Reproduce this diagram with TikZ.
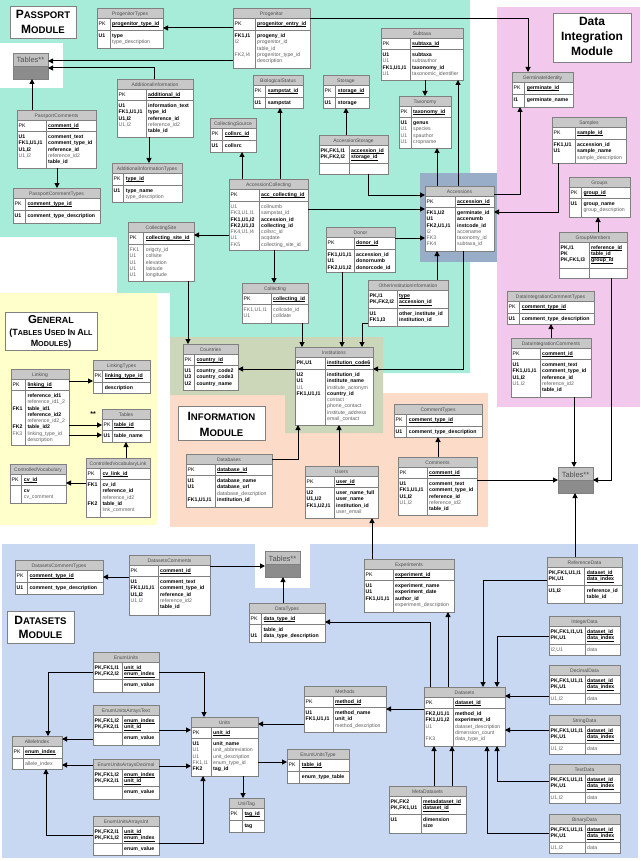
\documentclass[tikz,border=0pt]{standalone}
\usepackage{fontspec}
\setmainfont{Liberation Sans}
\usetikzlibrary{calc,arrows.meta}
\definecolor{cteal}{RGB}{166,236,216}
\definecolor{cpink}{RGB}{242,200,236}
\definecolor{cyellow}{RGB}{255,255,204}
\definecolor{csalmon}{RGB}{252,220,200}
\definecolor{colive}{RGB}{204,214,184}
\definecolor{cblue}{RGB}{200,215,242}
\definecolor{cslate}{RGB}{152,174,200}
\definecolor{titlefill}{RGB}{200,200,200}
\definecolor{bordergray}{RGB}{128,128,128}
\definecolor{titletext}{RGB}{80,80,80}
\definecolor{fieldgray}{RGB}{96,96,96}
\definecolor{bodygray}{RGB}{140,140,140}
\definecolor{starfill}{RGB}{192,192,192}
\newcommand\Fb[1]{\textbf{#1}}
\newcommand\Fg[1]{{\color{fieldgray}#1}}
\newcommand\Fk[1]{{\setbox0\hbox{\textbf{#1}}\rlap{\rule[-1.35pt]{\wd0}{0.35pt}}\box0}}
\newcommand\SC[4]{{\fontsize{#3}{#3}\selectfont #1}{\fontsize{#4}{#4}\selectfont #2}}
\tikzset{
  tblnode/.style={fill=white, draw=none, inner sep=0pt, outer sep=0pt},
  tl/.style={draw=bordergray, line width=0.6pt},
  ttext/.style={font=\fontsize{5}{6}\selectfont, text=titletext, inner sep=0pt, anchor=base},
  ctext/.style={font=\fontsize{5.2}{6.3}\selectfont, anchor=north west, inner sep=0pt},
  arr/.style={draw=black, line width=1pt, -{Triangle[length=5pt,width=5pt]}},
  modbox/.style={fill=white, draw=bordergray, line width=0.6pt, inner sep=0pt, anchor=north west},
  modtext/.style={font=\bfseries, inner sep=0pt, anchor=base},
}
% \tbl{name}{x}{y}{w}{keycol}{pkheight}{height}{title}
\newcommand\tbl[8]{%
  \node[tblnode, minimum width=#4pt, minimum height=#7pt, anchor=north west] (#1) at (#2,#3) {};
  \fill[titlefill] (#2,#3) rectangle ({#2+#4},{#3+10.5});
  \draw[tl] (#2,{#3+10.5}) -- ({#2+#4},{#3+10.5});
  \draw[tl] (#2,{#3+10.5+#6}) -- ({#2+#4},{#3+10.5+#6});
  \draw[tl] ({#2+#5},{#3+10.5}) -- ({#2+#5},{#3+#7});
  \draw[tl] (#2,#3) rectangle ({#2+#4},{#3+#7});
  \node[ttext] (#1-title) at ({#2+#4/2},{#3+7.4}) {#8};
  \gdef\tn{#1}\gdef\tx{#2}\gdef\ty{#3}\gdef\tk{#5}\gdef\tp{#6}}
% \trows{pk keys}{pk fields}{keys}{fields}
\newcommand\trows[4]{%
  \node[ctext] (\tn-a) at ({\tx+1.5},{\ty+12.6}) {\begin{tabular}{@{}l@{}}#1\end{tabular}};
  \node[ctext] (\tn-b) at ({\tx+\tk+2},{\ty+12.6}) {\begin{tabular}{@{}l@{}}#2\end{tabular}};
  \node[ctext] (\tn-c) at ({\tx+1.5},{\ty+12.8+\tp}) {\begin{tabular}{@{}l@{}}#3\end{tabular}};
  \node[ctext] (\tn-d) at ({\tx+\tk+2},{\ty+12.8+\tp}) {\begin{tabular}{@{}l@{}}#4\end{tabular}};}
\newcommand\commentrows{\trows{PK}{\Fk{comment\_id}}{\Fb{U1}\\\Fb{FK1,U1,I1}\\\Fb{U1,I2}\\\Fg{U1,I2}}{\Fb{comment\_text}\\\Fb{comment\_type\_id}\\\Fb{reference\_id}\\\Fg{reference\_id2}\\\Fb{table\_id}}}
\newcommand\ctrows{\trows{PK}{\Fk{comment\_type\_id}}{\Fb{U1}}{\Fb{comment\_type\_description}}}
\newcommand\datarows{\trows{\Fb{PK,FK1,U1,I1}\\\Fb{PK,U1}}{\Fk{dataset\_id}\\\Fk{data\_index}}{\Fg{U1,I2}}{\Fg{data}}}
% Tables** box
\newcommand\tstar[3]{%
  \node[tblnode, fill=bodygray, minimum width=35pt, minimum height=26pt, anchor=north west] (#1) at (#2,#3) {};
  \fill[starfill] (#2,#3) rectangle ({#2+35},{#3+13});
  \draw[tl] (#2,{#3+13}) -- ({#2+35},{#3+13});
  \draw[tl] (#2,#3) rectangle ({#2+35},{#3+26});
  \node[font=\fontsize{7.5}{8}\selectfont, text=titletext, inner sep=0pt, anchor=base] (#1-title) at ({#2+17.5},{#3+10}) {Tables**};}
\begin{document}
\begin{tikzpicture}[x=1pt,y=-1pt]
\useasboundingbox (0,0) rectangle (640,861);
\fill[white] (0,0) rectangle (640,861);
% ---------- module backgrounds
\fill[cteal] (0,0) -- (470,0) -- (470,373) -- (383,373) -- (383,337) -- (170,337) -- (170,293) -- (117,293) -- (117,237) -- (0,237) -- cycle;
\fill[white] (0,43) rectangle (63,88);
\fill[cslate] (420,173) rectangle (498,262);
\fill[cpink] (497,7) rectangle (640,407);
\fill[cyellow] (0,293) rectangle (157,525);
\fill[csalmon] (170,393) rectangle (488,527);
\fill[colive] (170,337) -- (383,337) -- (383,433) -- (285,433) -- (285,395) -- (170,395) -- cycle;
\fill[cblue] (2,544) rectangle (638,858);
\fill[white] (255,544) rectangle (310,588);
% ---------- module labels
\node[modbox, minimum width=66pt, minimum height=32pt] (passlabel) at (10,6) {};
\node[modtext] (pass1) at (43,18.3) {\SC{P}{ASSPORT}{12}{9.6}};
\node[modtext] (pass2) at (43,33.3) {\SC{M}{ODULE}{12}{9.6}};
\node[modbox, minimum width=78pt, minimum height=49pt] (dilabel) at (553,13) {};
\node[modtext, font=\bfseries\fontsize{12}{12}\selectfont] (di1) at (592,26) {Data};
\node[modtext, font=\bfseries\fontsize{12}{12}\selectfont] (di2) at (592,40.5) {Integration};
\node[modtext, font=\bfseries\fontsize{12}{12}\selectfont] (di3) at (592,56) {Module};
\node[modbox, minimum width=92pt, minimum height=38pt] (genlabel) at (5,312) {};
\node[modtext] (gen1) at (51,323.3) {\SC{G}{ENERAL}{11.5}{9}};
\node[modtext] (gen2) at (51,335.3) {\SC{(T}{ABLES }{9}{7.2}\SC{U}{SED }{9}{7.2}\SC{I}{N }{9}{7.2}\SC{A}{LL}{9}{7.2}};
\node[modtext] (gen3) at (51,346.3) {\SC{M}{ODULES}{9}{7.2}\SC{)}{}{9}{7.2}};
\node[modbox, minimum width=87pt, minimum height=34pt] (infolabel) at (178,406) {};
\node[modtext] (info1) at (221.5,420.5) {\SC{I}{NFORMATION}{12}{9.6}};
\node[modtext] (info2) at (221.5,436) {\SC{M}{ODULE}{12}{9.6}};
\node[modbox, minimum width=67pt, minimum height=32pt] (dslabel) at (7,611) {};
\node[modtext] (ds1) at (40.5,624) {\SC{D}{ATASETS}{12}{9.6}};
\node[modtext] (ds2) at (40.5,638.5) {\SC{M}{ODULE}{12}{9.6}};
\node[modtext, font=\bfseries\fontsize{7}{7}\selectfont] (stars) at (93,416) {**};
% ---------- passport module tables
\tbl{PT}{97}{8}{66}{13}{12}{40}{ProgenitorTypes}
\trows{PK}{\Fk{progenitor\_type\_id}}{\Fb{U1}}{\Fb{type}\\\Fg{type\_description}}
\tbl{Prog}{233}{8}{77}{22}{12}{60}{Progenitor}
\trows{PK}{\Fk{progenitor\_entry\_id}}{\Fb{FK1,I1}\\\Fg{I2}\\ \\\Fg{FK2,I4}}{\Fb{progeny\_id}\\\Fg{progenitor\_id}\\\Fg{table\_id}\\\Fg{progenitor\_type\_id}\\\Fg{description}}
\tstar{TA}{13}{53}
\tbl{PC}{17}{110}{79}{29}{11}{58}{PassportComments}
\commentrows
\tbl{PCT}{13}{188}{87}{12.3}{12}{35}{PassportCommentTypes}
\ctrows
\tbl{AI}{117}{79}{76}{29}{11}{58}{AdditionalInformation}
\trows{PK}{\Fk{additional\_id}}{\Fb{U1}\\\Fb{FK1,U1,I1}\\\Fb{U1,I2}\\\Fg{U1,I2}}{\Fb{information\_text}\\\Fb{type\_id}\\\Fb{reference\_id}\\\Fg{reference\_id2}\\\Fb{table\_id}}
\tbl{AIT}{112}{163}{70}{11.7}{12}{39}{AdditionalInformationTypes}
\trows{PK}{\Fk{type\_id}}{\Fb{U1}}{\Fb{type\_name}\\\Fg{type\_description}}
\tbl{CS}{210}{118}{46}{12.7}{12}{34}{CollectingSource}
\trows{PK}{\Fk{collsrc\_id}}{\Fb{U1}}{\Fb{collsrc}}
\tbl{BS}{253}{75}{50}{12.7}{12}{33}{BiologicalStatus}
\trows{PK}{\Fk{sampstat\_id}}{\Fb{U1}}{\Fb{sampstat}}
\tbl{Sto}{323}{75}{46}{12.7}{12}{33}{Storage}
\trows{PK}{\Fk{storage\_id}}{\Fb{U1}}{\Fb{storage}}
\tbl{AS}{319}{135}{69}{30}{18}{39}{AccessionStorage}
\trows{\Fb{PK,FK1,I1}\\\Fb{PK,FK2,I2}}{\Fk{accession\_id}\\\Fk{storage\_id}}{}{}
\tbl{AC}{229}{179}{79}{30}{12}{71}{AccessionCollecting}
\trows{PK}{\Fk{acc\_collecting\_id}}{\Fg{U1}\\\Fg{FK3,U1,I1}\\\Fb{FK1,U1,I2}\\\Fb{FK2,U1,I3}\\\Fg{FK4,U1,I4}\\\Fg{U1}\\\Fg{FK5}}{\Fg{collnumb}\\\Fg{sampstat\_id}\\\Fb{accession\_id}\\\Fb{collecting\_id}\\\Fg{collsrc\_id}\\\Fg{acqdate}\\\Fg{collecting\_site\_id}}
\tbl{Sub}{381}{28}{82}{29}{11}{52}{Subtaxa}
\trows{PK}{\Fk{subtaxa\_id}}{\Fb{U1}\\\Fg{U1}\\\Fb{FK1,U1,I1}\\\Fg{U1}}{\Fb{subtaxa}\\\Fg{subtauthor}\\\Fb{taxonomy\_id}\\\Fg{taxonomic\_identifier}}
\tbl{Tax}{399}{96}{52}{12}{11}{52}{Taxonomy}
\trows{PK}{\Fk{taxonomy\_id}}{\Fb{U1}\\\Fg{U1}\\\Fg{U1}\\\Fg{U1}}{\Fb{genus}\\\Fg{species}\\\Fg{spauthor}\\\Fg{cropname}}
\tbl{Acc}{425}{186}{69}{30}{11}{65}{Accessions}
\trows{PK}{\Fk{accession\_id}}{\Fb{FK1,U2}\\\Fb{U1}\\\Fb{FK2,U1,I1}\\\Fg{I2}\\\Fg{FK3}\\\Fg{FK4}}{\Fb{germinate\_id}\\\Fb{accenumb}\\\Fb{instcode\_id}\\\Fg{accename}\\\Fg{taxonomy\_id}\\\Fg{subtaxa\_id}}
\tbl{CSite}{128}{222}{66}{15.7}{12}{59}{CollectingSite}
\trows{PK}{\Fk{collecting\_site\_id}}{\Fg{FK1}\\\Fg{U1}\\\Fg{U1}\\\Fg{U1}\\\Fg{U1}}{\Fg{origcty\_id}\\\Fg{collsite}\\\Fg{elevation}\\\Fg{latitude}\\\Fg{longitude}}
\tbl{Don}{326}{227}{69}{28}{12}{45}{Donor}
\trows{PK}{\Fk{donor\_id}}{\Fb{FK1,U1,I1}\\\Fb{U1}\\\Fb{FK2,U1,I2}}{\Fb{accession\_id}\\\Fb{donornumb}\\\Fb{donorcode\_id}}
\tbl{Col}{242}{283}{66}{29}{11}{40}{Collecting}
\trows{PK}{\Fk{collecting\_id}}{\Fg{FK1,U1,I1}\\\Fg{U1}}{\Fg{collcode\_id}\\\Fg{colldate}}
\tbl{OII}{368}{280}{80}{29}{18}{46}{OtherInstitutionInformation}
\trows{\Fb{PK,I1}\\\Fb{PK,FK2,I2}}{\Fk{type}\\\Fk{accession\_id}}{\Fb{U1}\\\Fb{FK1,I3}}{\Fb{other\_institute\_id}\\\Fb{institution\_id}}
% ---------- data integration
\tbl{GI}{512}{72}{61}{12.7}{12}{35}{GerminateIdentity}
\trows{PK}{\Fk{germinate\_id}}{\Fb{I1}}{\Fb{germinate\_name}}
\tbl{Sam}{552}{117}{74}{23}{12}{46}{Samples}
\trows{PK}{\Fk{sample\_id}}{\Fb{FK1,U1}\\\Fb{U1}}{\Fb{accession\_id}\\\Fb{sample\_name}\\\Fg{sample\_description}}
\tbl{Grp}{569}{177}{61}{12.3}{11}{40}{Groups}
\trows{PK}{\Fk{group\_id}}{\Fb{U1}}{\Fb{group\_name}\\\Fg{group\_description}}
\tbl{GM}{559}{232}{68}{30}{26}{46}{GroupMembers}
\trows{\Fb{PK,I1}\\\Fb{PK}\\\Fb{PK,FK1,I3}}{\Fk{reference\_id}\\\Fk{table\_id}\\\Fk{group\_id}}{}{}
\tbl{DICT}{507}{291}{87}{12.7}{12}{33}{DataIntegrationCommentTypes}
\ctrows
\tbl{DIC}{511}{338}{80}{29}{11}{59}{DataIntegrationComments}
\commentrows
\tstar{TC}{558}{467}
% ---------- information module
\tbl{Cty}{183}{344}{55}{11.3}{11}{46}{Countries}
\trows{PK}{\Fk{country\_id}}{\Fb{U1}\\\Fb{U3}\\\Fb{U2}}{\Fb{country\_code2}\\\Fb{country\_code3}\\\Fb{country\_name}}
\tbl{Inst}{295}{347}{78}{30}{12}{78}{Institutions}
\trows{\Fb{PK,U1}}{\Fk{institution\_code6}}{\Fb{U2}\\\Fb{U1}\\\Fg{U1}\\\Fb{FK1,U1,I1}}{\Fb{institution\_id}\\\Fb{institute\_name}\\\Fg{institute\_acronym}\\\Fb{country\_id}\\\Fg{contact}\\\Fg{phone\_contact}\\\Fg{institute\_address}\\\Fg{email\_contact}}
\tbl{DB}{186}{454}{86}{29}{11}{53}{Databases}
\trows{PK}{\Fk{database\_id}}{\Fb{U1}\\\Fb{U1}\\ \\\Fb{FK1,U1,I1}}{\Fb{database\_name}\\\Fb{database\_url}\\\Fg{database\_description}\\\Fb{institution\_id}}
\tbl{Usr}{305}{466}{73}{29}{11}{52}{Users}
\trows{PK}{\Fk{user\_id}}{\Fb{U2}\\\Fb{U1,U2}\\\Fb{FK1,U2,I1}}{\Fb{user\_name\_full}\\\Fb{user\_name}\\\Fb{institution\_id}\\\Fg{user\_email}}
\tbl{CT}{394}{404}{88}{12.7}{12}{33}{CommentTypes}
\ctrows
\tbl{Com}{398}{457}{79}{29}{11}{58}{Comments}
\commentrows
% ---------- general
\tbl{Lnk}{11}{369}{58}{14.3}{11}{76}{Linking}
\trows{PK}{\Fk{linking\_id}}{ \\ \\\Fb{FK1}\\ \\ \\\Fb{FK2}\\\Fg{FK3}}{\Fb{reference\_id1}\\\Fg{reference\_id1\_2}\\\Fb{table\_id1}\\\Fb{reference\_id2}\\\Fg{reference\_id2\_2}\\\Fb{table\_id2}\\\Fg{linking\_type\_id}\\\Fg{description}}
\tbl{LT}{93}{360}{57}{9.7}{12}{33}{LinkingTypes}
\trows{PK}{\Fk{linking\_type\_id}}{}{\Fb{description}}
\tbl{Tbl}{102}{409}{48}{10}{11}{33}{Tables}
\trows{PK}{\Fk{table\_id}}{\Fb{U1}}{\Fb{table\_name}}
\tbl{CV}{10}{464}{56}{11.7}{11}{39}{ControlledVocabulary}
\trows{PK}{\Fk{cv\_id}}{}{\Fb{cv}\\\Fg{cv\_comment}}
\tbl{CVL}{86}{458}{64}{14.3}{11}{59}{ControlledVocabularyLink}
\trows{PK}{\Fk{cv\_link\_id}}{\Fb{FK1}\\ \\ \\\Fb{FK2}}{\Fb{cv\_id}\\\Fb{reference\_id}\\\Fg{reference\_id2}\\\Fb{table\_id}\\\Fg{link\_comment}}
% ---------- datasets module
\tbl{DCT}{15}{560}{88}{12.3}{12}{34}{DatasetsCommentTypes}
\ctrows
\tbl{DC}{129}{555}{81}{29}{11}{60}{DatasetsComments}
\commentrows
\tstar{TB}{265}{551}
\tbl{DT}{249}{603}{76}{12.3}{11}{39}{DataTypes}
\trows{PK}{\Fk{data\_type\_id}}{ \\\Fb{U1}}{\Fb{table\_id}\\\Fb{data\_type\_description}}
\tbl{Exp}{364}{559}{90}{29}{11}{53}{Experiments}
\trows{PK}{\Fk{experiment\_id}}{\Fb{U1}\\\Fb{U1}\\\Fb{FK1,U1,I1}}{\Fb{experiment\_name}\\\Fb{experiment\_date}\\\Fb{author\_id}\\\Fg{experiment\_description}}
\tbl{RD}{547}{557}{75}{37.7}{18}{46}{ReferenceData}
\trows{\Fb{PK,FK1,U1,I1}\\\Fb{PK,U1}}{\Fk{dataset\_id}\\\Fk{data\_index}}{\Fb{U1,I2}}{\Fb{reference\_id}\\\Fb{table\_id}}
\tbl{IntD}{549}{616}{71}{36}{18}{39}{IntegerData}
\trows{\Fb{PK,FK1,I1,U1}\\\Fb{PK,U1}}{\Fk{dataset\_id}\\\Fk{data\_index}}{\Fg{I2,U1}}{\Fg{data}}
\tbl{DecD}{549}{665}{71}{36}{18}{39}{DecimalData}
\datarows
\tbl{StrD}{549}{715}{71}{36}{18}{39}{StringData}
\datarows
\tbl{TxtD}{549}{764}{71}{36}{18}{39}{TextData}
\datarows
\tbl{BinD}{549}{814}{71}{36}{18}{39}{BinaryData}
\datarows
\tbl{DS}{424}{687}{81}{29}{11}{59}{Datasets}
\trows{PK}{\Fk{dataset\_id}}{\Fb{FK2,U1,I1}\\\Fb{FK1,U1,I2}\\\Fg{U1}\\ \\\Fg{FK3}}{\Fb{method\_id}\\\Fb{experiment\_id}\\\Fg{dataset\_description}\\\Fg{dimension\_count}\\\Fg{data\_type\_id}}
\tbl{MD}{389}{786}{77}{32}{18}{47}{MetaDatasets}
\trows{\Fb{PK,FK2}\\\Fb{PK,FK1,U1}}{\Fk{metadataset\_id}\\\Fk{dataset\_id}}{\Fb{U1}}{\Fb{dimension}\\\Fb{size}}
\tbl{Meth}{304}{686}{82}{29}{11}{46}{Methods}
\trows{PK}{\Fk{method\_id}}{\Fb{U1}\\\Fb{FK1,U1,I1}}{\Fb{method\_name}\\\Fb{unit\_id}\\\Fg{method\_description}}
\tbl{Un}{191}{717}{67}{20}{11}{59}{Units}
\trows{PK}{\Fk{unit\_id}}{\Fb{U1}\\\Fg{U1}\\\Fg{U1}\\\Fg{FK1,I1}\\\Fb{FK2}}{\Fb{unit\_name}\\\Fg{unit\_abbreviation}\\\Fg{unit\_description}\\\Fg{enum\_type\_id}\\\Fb{tag\_id}}
\tbl{EUT}{287}{749}{62}{12.7}{12}{34}{EnumUnitsType}
\trows{PK}{\Fk{table\_id}}{}{\Fb{enum\_type\_table}}
\tbl{UT}{229}{798}{35}{13.3}{12}{34}{UnitTag}
\trows{PK}{\Fk{tag\_id}}{}{\Fb{tag}}
\tbl{EU}{93}{652}{66}{29}{17}{40}{EnumUnits}
\trows{\Fb{PK,FK1,I1}\\\Fb{PK,FK2,I2}}{\Fk{unit\_id}\\\Fk{enum\_index}}{}{\Fb{enum\_value}}
\tbl{EUAT}{93}{705}{66}{29}{17}{40}{EnumUnitsArraysText}
\trows{\Fb{PK,FK1,I2}\\\Fb{PK,FK2,I1}}{\Fk{enum\_index}\\\Fk{unit\_id}}{}{\Fb{enum\_value}}
\tbl{EUAD}{93}{759}{66}{29}{17}{40}{EnumUnitsArraysDecimal}
\trows{\Fb{PK,FK1,I2}\\\Fb{PK,FK2,I1}}{\Fk{enum\_index}\\\Fk{unit\_id}}{}{\Fb{enum\_value}}
\tbl{EUAI}{93}{816}{66}{29}{17}{39}{EnumUnitsArraysInt}
\trows{\Fb{PK,FK2,I1}\\\Fb{PK,FK1,I2}}{\Fk{unit\_id}\\\Fk{enum\_index}}{}{\Fb{enum\_value}}
\tbl{AlI}{12}{736}{50}{11}{12}{33}{AlleleIndex}
\trows{PK}{\Fk{enum\_index}}{}{\Fg{allele\_index}}
% ---------- connectors
\draw[arr] (Prog.west |- 0,28) -- (PT.east |- 0,28);
\draw[arr] (Prog.west |- 0,61) -- (TA.east |- 0,61);
\draw[arr] (AI.north -| 154,0) |- (TA.east |- 0,68);
\draw[arr] (PC.north -| 32,0) -- (TA.south -| 32,0);
\draw[arr] (PC.south -| 57,0) -- (PCT.north -| 57,0);
\draw[arr] (AI.south -| 149,0) -- (AIT.north -| 149,0);
\draw[arr] (AC.north -| 242,0) -- (CS.south -| 242,0);
\draw[arr] (AC.north -| 280,0) -- (BS.south -| 280,0);
\draw[arr] (AS.north -| 346,0) -- (Sto.south -| 346,0);
\draw[arr] (AS.south -| 368,0) |- (Acc.west |- 0,195);
\draw[arr] (AC.east |- 0,209) -- (Acc.west |- 0,209);
\draw[arr] (AC.west |- 0,235) -- (CSite.east |- 0,235);
\draw[arr] (AC.south -| 274,0) -- (Col.north -| 274,0);
\draw[arr] (Don.east |- 0,238) -- (Acc.west |- 0,238);
\draw[arr] (Don.south -| 342,0) -- (Inst.north -| 342,0);
\draw[arr] (Col.south -| 302,0) -- (Inst.north -| 302,0);
\draw[arr] (OII.west |- 0,323) -| (Inst.north -| 362,0);
\draw[arr] (OII.north -| 437,0) -- (Acc.south -| 437,0);
\draw[arr] (Acc.south -| 463,0) |- (Inst.east |- 0,369);
\draw[arr] (Inst.west |- 0,369) -- (Cty.east |- 0,369);
\draw[arr] (CSite.south -| 188,0) -- (Cty.north -| 188,0);
\draw[arr] (Acc.north -| 437,0) -- (Tax.south -| 437,0);
\draw[arr] (Acc.north -| 458,0) -- (Sub.south -| 458,0);
\draw[arr] (Sub.south -| 425,0) -- (Tax.north -| 425,0);
\draw[arr] (Acc.east |- 0,194) -| (GI.south -| 520,0);
\draw[arr] (Sam.south -| 558,0) |- (Acc.east |- 0,212);
\draw[arr] (Prog.east |- 0,19) -| (GI.north -| 528,0);
\draw[arr] (GM.north -| 598,0) -- (Grp.south -| 598,0);
\draw[arr] (GM.south -| 611,0) |- (TC.east |- 0,480);
\draw[arr] (DIC.north -| 551,0) -- (DICT.south -| 551,0);
\draw[arr] (DIC.south -| 574,0) -- (TC.north -| 574,0);
\draw[arr] (Com.east |- 0,480) -- (TC.west |- 0,480);
\draw[arr] (Com.north -| 438,0) -- (CT.south -| 438,0);
\draw[arr] (RD.north -| 575,0) -- (TC.south -| 575,0);
\draw[arr] (Usr.north -| 339,0) -- (Inst.south -| 339,0);
\draw[arr] (DB.east |- 0,459) -| (Inst.south -| 298,0);
\draw[arr] (Exp.north -| 372,0) -- (Usr.south -| 372,0);
\draw[arr] (Lnk.east |- 0,381) -- (LT.west |- 0,381);
\draw[arr] (Lnk.east |- 0,425) -- (Tbl.west |- 0,425);
\draw[arr] (Lnk.east |- 0,435) -- (Tbl.west |- 0,435);
\draw[arr] (CVL.north -| 126,0) -- (Tbl.south -| 126,0);
\draw[arr] (CVL.west |- 0,483) -- (CV.east |- 0,483);
\draw[arr] (DC.east |- 0,566) -- (TB.west |- 0,566);
\draw[arr] (DC.west |- 0,577) -- (DCT.east |- 0,577);
\draw[arr] (DT.north -| 283,0) -- (TB.south -| 283,0);
\draw[arr] (DS.north -| 430,0) |- (DT.east |- 0,622);
\draw[arr] (DS.north -| 448,0) -- (Exp.south -| 448,0);
\draw[arr] (RD.west |- 0,580) -| (DS.north -| 483,0);
\draw[arr] (IntD.west |- 0,636) -| (DS.north -| 497,0);
\draw[arr] (DecD.west |- 0,696) -- (DS.east |- 0,696);
\draw[arr] (StrD.west |- 0,730) -- (DS.east |- 0,730);
\draw[arr] (TxtD.west |- 0,781) -| (DS.south -| 497,0);
\draw[arr] (BinD.west |- 0,833) -| (DS.south -| 487,0);
\draw[arr] (MD.north -| 434,0) -- (DS.south -| 434,0);
\draw[arr] (MD.north -| 452,0) -- (DS.south -| 452,0);
\draw[arr] (DS.west |- 0,709) -- (Meth.east |- 0,709);
\draw[arr] (Meth.west |- 0,724) -- (Un.east |- 0,724);
\draw[arr] (Un.east |- 0,762) -- (EUT.west |- 0,762);
\draw[arr] (Un.south -| 243,0) -- (UT.north -| 243,0);
\draw[arr] (EU.west |- 0,672) -| (AlI.north -| 48,0);
\draw[arr] (EU.east |- 0,672) -| (Un.north -| 204,0);
\draw[arr] (EUAT.west |- 0,739) -- (AlI.east |- 0,739);
\draw[arr] (EUAT.east |- 0,730) -- (Un.west |- 0,730);
\draw[arr] (EUAD.west |- 0,765) -- (AlI.east |- 0,765);
\draw[arr] (EUAD.east |- 0,766) -- (Un.west |- 0,766);
\draw[arr] (EUAI.west |- 0,835) -| (AlI.south -| 46,0);
\draw[arr] (EUAI.east |- 0,843) -| (Un.south -| 203,0);
\end{tikzpicture}
\end{document}
